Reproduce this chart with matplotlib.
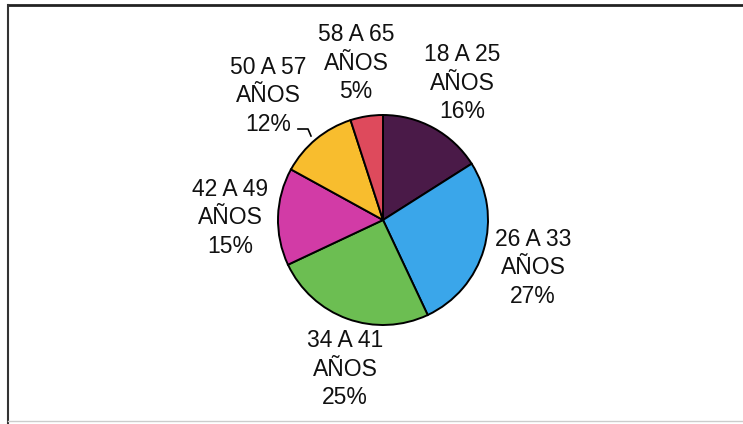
import matplotlib.pyplot as plt
from matplotlib.lines import Line2D

# data
categories = ['18 A 25', '26 A 33', '34 A 41', '42 A 49', '50 A 57', '58 A 65']
values = [16, 27, 25, 15, 12, 5]
colors = ['#4a1a48', '#3aa6ea', '#6cbe52', '#d23ba6', '#f8bd2e', '#de4a5c']

# label centres in pixels (x, y from top), same order as categories
label_pos = [(462, 83), (533, 268), (345, 369), (230, 218), (268, 96), (356, 63)]

W, H = 743, 424
fig = plt.figure(figsize=(W / 100, H / 100), dpi=100)
ax = fig.add_axes([0, 0, 1, 1])

# pie centre (383, 220) in pixel space, y flipped for matplotlib
ax.pie(values, colors=colors, startangle=90, counterclock=False,
       center=(383, H - 220), radius=105,
       wedgeprops=dict(edgecolor='black', linewidth=1.4))

for cat, v, (x, y) in zip(categories, values, label_pos):
    ax.text(x, H - y, f"{cat}\nAÑOS\n{v}%", ha='center', va='center',
            fontsize=16.5, family='Liberation Sans', color='#111111',
            linespacing=1.3)

# leader line for the 12% label
ax.add_line(Line2D([298, 308, 311], [H - 129, H - 129, H - 136],
                   color='black', linewidth=1.2))

# scanned frame: top and left border, faint bottom
ax.add_line(Line2D([8, W], [H - 5, H - 5], color='#222222', linewidth=2))
ax.add_line(Line2D([8, 8], [H - 5, 0], color='#333333', linewidth=1.5))
ax.add_line(Line2D([8, W], [H - 421, H - 421], color='#cccccc', linewidth=1))

ax.set_xlim(0, W)
ax.set_ylim(0, H)
ax.set_aspect('equal')
ax.axis('off')

fig.savefig('out.png', dpi=100)
